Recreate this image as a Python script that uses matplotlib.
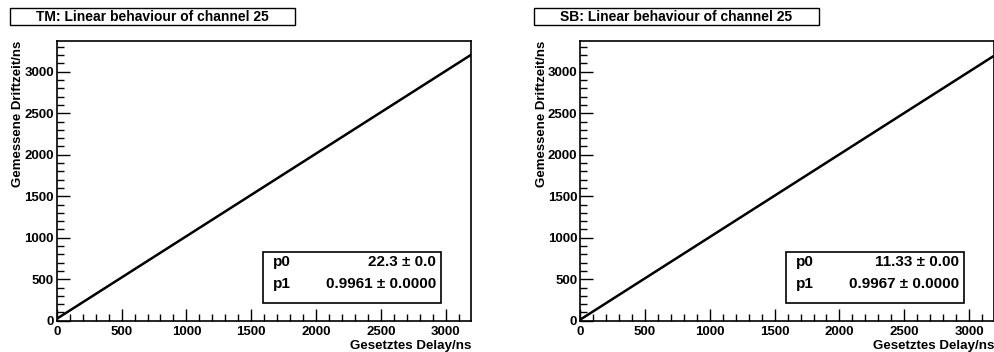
import numpy as np
import matplotlib
matplotlib.use("Agg")
import matplotlib.pyplot as plt
from matplotlib.patches import Rectangle
from matplotlib.ticker import MultipleLocator

plt.rcParams["font.family"] = ["Liberation Sans", "DejaVu Sans"]
plt.rcParams["font.weight"] = "bold"

# fit results shown in the two stat boxes
titles = ["TM: Linear behaviour of channel 25", "SB: Linear behaviour of channel 25"]
p0_vals = [22.3, 11.33]
p1_vals = [0.9961, 0.9967]
p0_text = ["22.3 \u00b1 0.0", "11.33 \u00b1 0.00"]
p1_text = ["0.9961 \u00b1 0.0000", "0.9967 \u00b1 0.0000"]
delay_range = [10, 3195]  # ns, ends of the fitted line

W, H = 995, 352
fig = plt.figure(figsize=(W / 100, H / 100), dpi=100)


def fx(px):
    return px / W


def fy(py):
    return 1 - py / H


panels = [
    dict(ax_left=56.7, title_box=(10, 295)),
    dict(ax_left=580.0, title_box=(534, 819)),
]

for i, pan in enumerate(panels):
    left = pan["ax_left"]
    ax = fig.add_axes([fx(left), fy(320.7), (414.5) / W, (320.7 - 41) / H])
    x = np.array(delay_range, dtype=float)
    ax.plot(x, p0_vals[i] + p1_vals[i] * x, color="black", lw=1.8)
    ax.set_xlim(0, 3195)
    ax.set_ylim(0, 3370)
    ax.xaxis.set_major_locator(MultipleLocator(500))
    ax.xaxis.set_minor_locator(MultipleLocator(100))
    ax.yaxis.set_major_locator(MultipleLocator(500))
    ax.yaxis.set_minor_locator(MultipleLocator(100))
    ax.tick_params(which="both", direction="in", top=False, right=False,
                   width=1, labelsize=9.5)
    ax.tick_params(which="major", length=9, pad=2)
    ax.tick_params(axis="x", which="major", pad=4)
    ax.tick_params(which="minor", length=5)
    for lab in ax.get_xticklabels() + ax.get_yticklabels():
        lab.set_fontweight("bold")
    for sp in ax.spines.values():
        sp.set_linewidth(1.2)

    ax.set_xlabel("Gesetztes Delay/ns", fontsize=9.6, fontweight="bold",
                  loc="right", labelpad=1)
    ax.set_ylabel("Gemessene Driftzeit/ns", fontsize=9.5, fontweight="bold",
                  loc="top", labelpad=0)

    # title box
    x0, x1 = pan["title_box"]
    fig.patches.append(Rectangle((fx(x0), fy(25)), fx(x1 - x0), (25 - 8.3) / H,
                                 transform=fig.transFigure, facecolor="white",
                                 edgecolor="black", lw=1))
    fig.text(fx((x0 + x1) / 2), fy(16.8), titles[i], ha="center", va="center",
             fontsize=10, fontweight="bold")

    # stats box
    bx0 = left + 206.3
    bx1 = left + 384
    fig.patches.append(Rectangle((fx(bx0), fy(303.3)), fx(bx1 - bx0), (303.3 - 251.7) / H,
                                 transform=fig.transFigure, facecolor="white",
                                 edgecolor="black", lw=1.2, zorder=5))
    fig.text(fx(bx0 + 9.5), fy(262), "p0", ha="left", va="center", fontsize=11,
             fontweight="bold", zorder=6)
    fig.text(fx(bx0 + 9.5), fy(284), "p1", ha="left", va="center", fontsize=11,
             fontweight="bold", zorder=6)
    fig.text(fx(bx1 - 4.7), fy(262), p0_text[i], ha="right", va="center",
             fontsize=11, fontweight="bold", zorder=6)
    fig.text(fx(bx1 - 4.7), fy(284), p1_text[i], ha="right", va="center",
             fontsize=11, fontweight="bold", zorder=6)

fig.savefig("out.png", dpi=100)
